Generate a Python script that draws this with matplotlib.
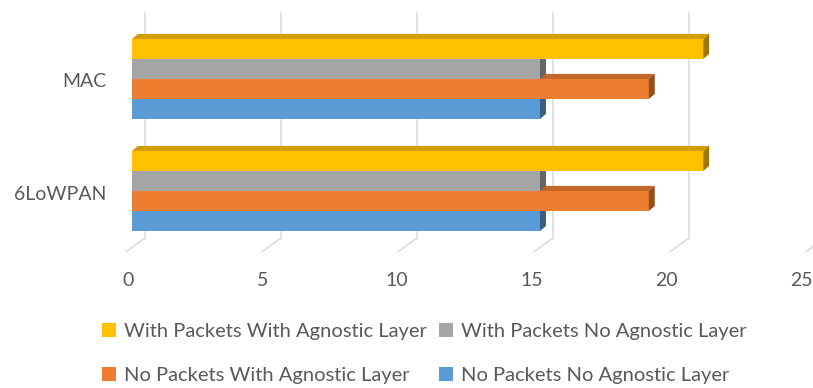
import numpy as np
import matplotlib
matplotlib.use('Agg')
import matplotlib.pyplot as plt
from matplotlib.patches import Polygon

# Chart data
categories = ['6LoWPAN', 'MAC']
series_names = ['No Packets No Agnostic Layer', 'No Packets With Agnostic Layer',
                'With Packets No Agnostic Layer', 'With Packets With Agnostic Layer']
no_pkt_no_agn = [15, 15]
no_pkt_with_agn = [19, 19]
with_pkt_no_agn = [15, 15]
with_pkt_with_agn = [21, 21]
x_ticks = [0, 5, 10, 15, 20, 25]

series_values = [no_pkt_no_agn, no_pkt_with_agn, with_pkt_no_agn, with_pkt_with_agn]
colors = ['#5B9BD5', '#ED7D31', '#A5A5A5', '#FFC000']

plt.rcParams['font.family'] = ['Lato', 'DejaVu Sans']
text_color = '#595959'

fig = plt.figure(figsize=(8.13, 3.88), dpi=100)
ax = fig.add_axes([0, 0, 1, 1])
ax.set_xlim(-4.853, 25.037)
ax.set_ylim(-1.759, 1.705)
ax.axis('off')

bar_h = 0.1786
dx, dy = 0.22, 0.045          # depth of each bar
back_dx = 0.48                # offset of the back wall
grid_top, grid_bot, floor_y = 1.589, -0.42, -0.536


def shade(c, f):
    rgb = np.array(matplotlib.colors.to_rgb(c))
    return tuple(rgb * f)


# back wall gridlines and floor lines
for t in x_ticks:
    ax.plot([t + back_dx, t + back_dx], [grid_top, grid_bot], color='#D9D9D9', lw=1.1, zorder=1)
    ax.plot([t + back_dx, t - 0.18], [grid_bot, floor_y], color='#D9D9D9', lw=1.1, zorder=1)
    ax.text(t * 0.99 - 0.15, -0.795, str(t), ha='center', va='center',
            fontsize=14, color=text_color)

ypos = np.arange(len(categories))
handles = []
for i, (vals, c) in enumerate(zip(series_values, colors)):
    offs = ypos + (i - 1.5) * bar_h
    z = 2 + i
    b = ax.barh(offs, vals, height=bar_h, color=c, zorder=z, label=series_names[i])
    handles.append(b)
    for y, v in zip(offs, vals):
        top, bot = y + bar_h / 2, y - bar_h / 2
        ax.add_patch(Polygon([(0, top), (dx, top + dy), (v + dx, top + dy), (v, top)],
                             closed=True, facecolor=shade(c, 0.82), edgecolor='none', zorder=z))
        ax.add_patch(Polygon([(v, bot), (v + dx, bot + dy), (v + dx, top + dy), (v, top)],
                             closed=True, facecolor=shade(c, 0.62), edgecolor='none', zorder=z))

for y, name in zip(ypos, categories):
    ax.text(-0.956, y - 0.027, name, ha='right', va='center', fontsize=14, color=text_color)

order = [3, 1, 2, 0]
leg = fig.legend([handles[k] for k in order], [series_names[k] for k in order],
                 loc='center', bbox_to_anchor=(0.522, 0.089), ncol=2, frameon=False,
                 fontsize=14.5, labelspacing=1.3, columnspacing=0.6, handletextpad=0.4,
                 handlelength=0.7, handleheight=0.7, borderpad=0)
for t in leg.get_texts():
    t.set_color(text_color)

fig.savefig('out.png', dpi=100)
